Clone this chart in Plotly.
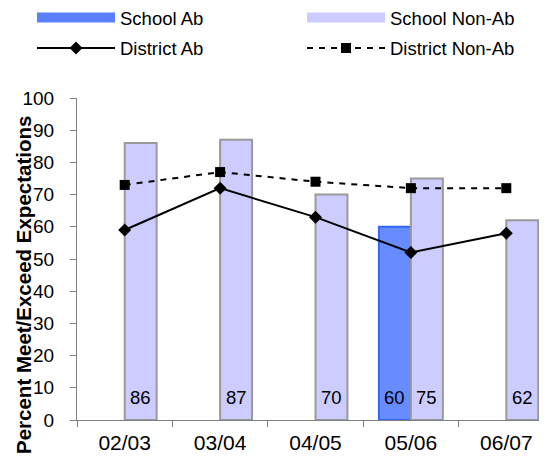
import plotly.graph_objects as go

categories = ["02/03", "03/04", "04/05", "05/06", "06/07"]
school_ab = [None, None, None, 60, None]
school_non_ab = [86, 87, 70, 75, 62]
district_ab = [59, 72, 63, 52, 58]
district_non_ab = [73, 77, 74, 72, 72]
y_ticks = list(range(0, 101, 10))

FONT = "Liberation Sans, Arial, sans-serif"
BARGAP = 0.33
W, H = 547, 456
ML, MR, MT, MB = 69, 1, 90, 44
plot_w = W - ML - MR
plot_h = H - MT - MB

AB_FILL, AB_EDGE = "#668CFF", "#3366FF"
NON_FILL, NON_EDGE = "#CCCCFF", "#999999"

fig = go.Figure()
fig.add_trace(go.Bar(
    name="School Ab", x=categories, y=school_ab, showlegend=False, legendgroup="sab",
    marker=dict(color=AB_FILL, line=dict(color=AB_EDGE, width=2)),
))
fig.add_trace(go.Bar(
    name="School Non-Ab", x=categories, y=school_non_ab, showlegend=False, legendgroup="snon",
    marker=dict(color=NON_FILL, line=dict(color=NON_EDGE, width=2)),
))
# legend keys for the bar series (wide swatches, as in the reference)
fig.add_trace(go.Scatter(
    name="School Ab", x=[None], y=[None], mode="lines", legend="legend", legendgroup="sab",
    line=dict(color="#5A80FF", width=10), hoverinfo="skip",
))
fig.add_trace(go.Scatter(
    name="School Non-Ab", x=[None], y=[None], mode="lines", legend="legend", legendgroup="snon",
    line=dict(color=NON_FILL, width=10), hoverinfo="skip",
))
fig.add_trace(go.Scatter(
    name="District Ab", x=categories, y=district_ab, mode="lines+markers", legend="legend2",
    line=dict(color="black", width=2),
    marker=dict(symbol="diamond", size=10, color="black"),
))
fig.add_trace(go.Scatter(
    name="District Non-Ab", x=categories, y=district_non_ab, mode="lines+markers", legend="legend2",
    line=dict(color="black", width=2, dash="6px,6px"),
    marker=dict(symbol="square", size=10, color="black"),
))

# value labels at the base of the bars
bar_w = plot_w / len(categories) * (1 - BARGAP) / 2
annotations = []
for series, side in ((school_ab, -1), (school_non_ab, 1)):
    for c, v in zip(categories, series):
        if v is None:
            continue
        annotations.append(dict(
            x=c, y=0, xref="x", yref="y", text=str(v), showarrow=False,
            xshift=side * bar_w / 2, yanchor="bottom", yshift=10,
            font=dict(family=FONT, size=18.5, color="black"),
        ))
annotations.append(dict(
    x=0, y=0.5, xref="paper", yref="paper", text="<b>Percent Meet/Exceed Expectations</b>",
    textangle=-90, showarrow=False, xanchor="center", yanchor="middle",
    xshift=-54, yshift=-26, font=dict(family=FONT, size=20.5, color="black"),
))

legend_common = dict(
    orientation="h", xref="paper", yref="paper",
    x=(24 - ML) / plot_w, xanchor="left", yanchor="middle",
    itemwidth=78, entrywidth=177, entrywidthmode="pixels",
    font=dict(family=FONT, size=18.5, color="black"),
    bgcolor="rgba(0,0,0,0)", traceorder="normal",
)

fig.update_layout(
    width=W, height=H, autosize=False,
    margin=dict(l=ML, r=MR, t=MT, b=MB, pad=0, autoexpand=False),
    paper_bgcolor="white", plot_bgcolor="white",
    barmode="group", bargap=BARGAP, bargroupgap=0,
    font=dict(family=FONT, color="black"),
    showlegend=True,
    legend=dict(legend_common, y=1 + (MT - 10) / plot_h),
    legend2=dict(legend_common, y=1 + (MT - 40.5) / plot_h),
    xaxis=dict(
        showline=True, linecolor="#808080", linewidth=1,
        ticks="outside", tickson="boundaries", ticklen=6, tickcolor="#808080",
        tickfont=dict(family=FONT, size=21, color="black"),
        ticklabelstandoff=4, showgrid=False, zeroline=False,
    ),
    yaxis=dict(
        range=[0, 100], tickvals=y_ticks, showline=True, linecolor="#808080", linewidth=1,
        ticks="outside", ticklen=6, tickcolor="#808080",
        tickfont=dict(family=FONT, size=19, color="black"),
        ticklabelstandoff=12, showgrid=False, zeroline=False,
    ),
    annotations=annotations,
)

fig.write_html("out.html")
